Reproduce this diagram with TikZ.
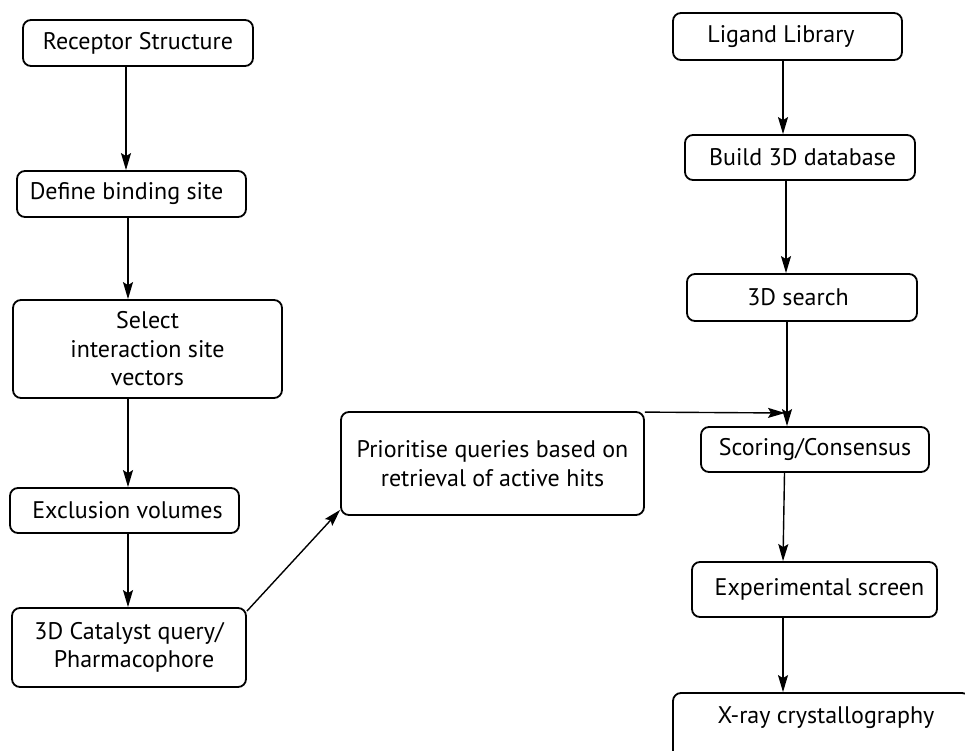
\documentclass[tikz,border=0pt]{standalone}
\usepackage{fontspec}
\setmainfont{PT Sans}
\usetikzlibrary{arrows.meta}
\begin{document}
\begin{tikzpicture}[x=1pt,y=-1pt,
  box/.style={draw, line width=1.8pt, rounded corners=8pt, inner sep=0pt, align=center,
              font=\fontsize{24}{28.5}\selectfont},
  txt/.style={inner sep=0pt, align=center, font=\fontsize{24}{28.5}\selectfont},
  arr/.style={line width=1.4pt, -{Stealth[length=17pt,width=10pt,inset=3pt]}}]
\useasboundingbox (0,0) rectangle (965,751);

% left column
\node[box, minimum width=230pt, minimum height=46pt] (rec) at (138,43) {Receptor Structure};
\node[box, minimum width=229pt, minimum height=46pt] (def) at (131.5,194) {\hspace*{-10pt}Define binding site};
\node[box, minimum width=269pt, minimum height=98pt] (sel) at (147.5,349) {Select\\interaction site\\vectors};
\node[box, minimum width=229pt, minimum height=45pt] (exc) at (124.5,510.5) {\hspace*{6pt}Exclusion volumes};
\node[box, minimum width=234pt, minimum height=79pt] (cat) at (129,647.5) {3D Catalyst query/\\\hspace*{10pt}Pharmacophore};

% middle
\node[box, minimum width=303pt, minimum height=103pt] (pri) at (492.5,463.5) {Prioritise queries based on\\retrieval of active hits};

% right column
\node[box, minimum width=229pt, minimum height=47pt] (lig) at (787.5,36.5) {\hspace*{-13pt}Ligand Library};
\node[box, minimum width=230pt, minimum height=45pt] (bld) at (800,157.5) {\hspace*{5pt}Build 3D database};
\node[box, minimum width=230pt, minimum height=47pt] (srch) at (802,297.5) {\hspace*{-8pt}3D search};
\node[box, minimum width=228pt, minimum height=45pt] (scr) at (815,449.5) {Scoring/Consensus};
\node[box, minimum width=245pt, minimum height=55pt] (exp) at (814.5,589.5) {\hspace*{10pt}Experimental screen};
\node[box, minimum width=297pt, minimum height=67pt] (xray) at (821.5,726.5) {};
\node[txt] (xraytxt) at (826,718) {X-ray crystallography};

% arrows left
\draw[arr] ([xshift=-12pt]rec.south) -- ([xshift=-5.5pt]def.north);
\draw[arr] ([xshift=-3.5pt]def.south) -- ([xshift=-19.5pt]sel.north);
\draw[arr] ([xshift=-19.5pt]sel.south) -- ([xshift=3.5pt]exc.north);
\draw[arr] ([xshift=3.5pt]exc.south) -- ([xshift=-1pt]cat.north);

% diagonal
\draw[arr] ([yshift=-4pt]cat.north east) -- ([yshift=6pt]pri.south west);

% arrows right
\draw[arr] ([xshift=-4.5pt]lig.south) -- ([xshift=-17pt]bld.north);
\draw[arr] ([xshift=-14pt]bld.south) -- ([xshift=-16pt]srch.north);
\draw[arr] ([xshift=-15pt]srch.south) -- ([xshift=-28pt]scr.north);
\coordinate (join) at (785,413);
\draw[arr] ([yshift=-1pt]pri.north east) -- (join);
\draw[arr] ([xshift=-30.5pt]scr.south) -- ([xshift=-31.5pt]exp.north);
\draw[arr] ([xshift=-31.5pt]exp.south) -- ([xshift=-38.5pt]xray.north);
\end{tikzpicture}
\end{document}
